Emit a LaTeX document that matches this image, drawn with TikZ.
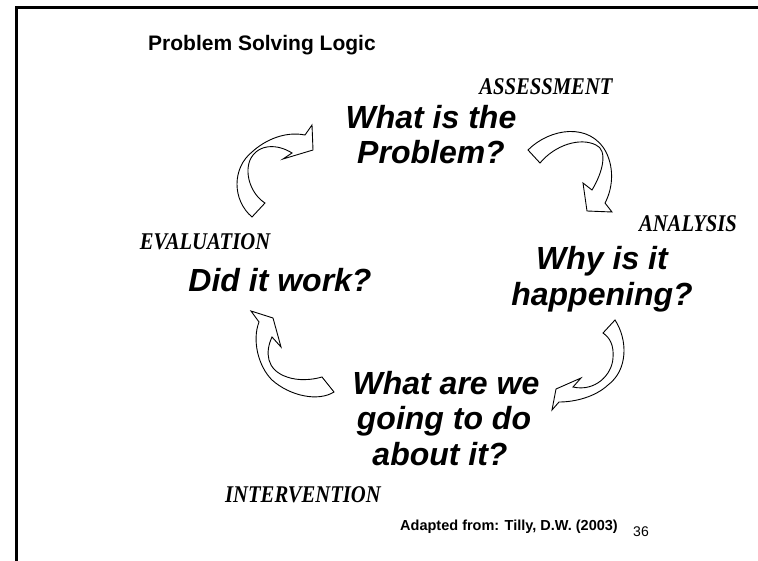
\documentclass[tikz,border=0pt]{standalone}
\usepackage{fontspec}
\setmainfont{Liberation Sans}
\newfontfamily\serifbi{Liberation Serif}
\newcommand{\stagetext}[1]{\scalebox{0.86}[1]{\fontsize{24}{24}\selectfont\serifbi\bfseries\itshape #1}}
\begin{document}
\begin{tikzpicture}[x=1pt,y=-1pt,
  stage/.style={inner sep=0pt, anchor=base},
  question/.style={font=\fontsize{32}{32}\selectfont\bfseries\itshape, inner sep=0pt, anchor=base},
  cyc/.style={draw=black, fill=white, line width=0.9pt, line join=miter},
]
\useasboundingbox (0,0) rectangle (758,561);
\draw[line width=3pt] (16.5,561) -- (16.5,7.5) -- (758,7.5);

% title
\node[anchor=base west, inner sep=0pt, font=\fontsize{21}{21}\selectfont\bfseries] (title) at (148,51) {Problem Solving Logic};

% stage labels
\node[stage] (assess) at (546,95) {\stagetext{ASSESSMENT}};
\node[stage] (analys) at (688,232) {\stagetext{ANALYSIS}};
\node[stage] (evalu) at (205,250) {\stagetext{EVALUATION}};
\node[stage] (interv) at (303,502) {\stagetext{INTERVENTION}};

% questions
\node[question] (q1a) at (431,129) {What is the};
\node[question] (q1b) at (431,164) {Problem?};
\node[question] (q2a) at (602,270) {Why is it};
\node[question] (q2b) at (602,306) {happening?};
\node[question] (q3a) at (446,394) {What are we};
\node[question] (q3b) at (444,429) {going to do};
\node[question] (q3c) at (440,465) {about it?};
\node[question] (q4) at (280,292) {Did it work?};

% curved arrows
\path[cyc] (252,217) .. controls (232,200) and (232,168) .. (252,152)
  .. controls (265,140) and (285,131) .. (305,135)
  -- (312,125) -- (313,150) -- (283,159) -- (292,153)
  .. controls (278,144) and (258,143) .. (250,160)
  .. controls (244,175) and (252,195) .. (265,203) -- cycle;

\path[cyc] (528,150) .. controls (550,128) and (590,122) .. (606,152)
  .. controls (615,170) and (612,190) .. (605,203)
  -- (612,212) -- (587,211) -- (583,183) -- (592,190)
  .. controls (603,172) and (608,150) .. (596,145)
  .. controls (580,137) and (555,145) .. (540,163) -- cycle;

\path[cyc] (615,320) .. controls (628,340) and (628,370) .. (608,385)
  .. controls (595,397) and (575,402) .. (559,402)
  -- (552,410) -- (556,389) -- (581,378) -- (573,387)
  .. controls (595,392) and (612,375) .. (613,358)
  .. controls (614,345) and (610,338) .. (603,333) -- cycle;

\path[cyc] (334,392) .. controls (318,402) and (290,396) .. (272,380)
  .. controls (258,366) and (252,340) .. (259,322)
  -- (251,311) -- (273,318) -- (281,347) -- (272,337)
  .. controls (265,352) and (266,370) .. (287,377)
  .. controls (298,381) and (312,380) .. (322,377) -- cycle;

% footer
\node[anchor=base, inner sep=0pt, font=\fontsize{14.5}{14.5}\selectfont\bfseries] (src) at (509,530) {Adapted from: Tilly, D.W. (2003)};
\node[anchor=base, inner sep=0pt, font=\fontsize{14}{14}\selectfont] (pg) at (641,536) {36};
\end{tikzpicture}
\end{document}
